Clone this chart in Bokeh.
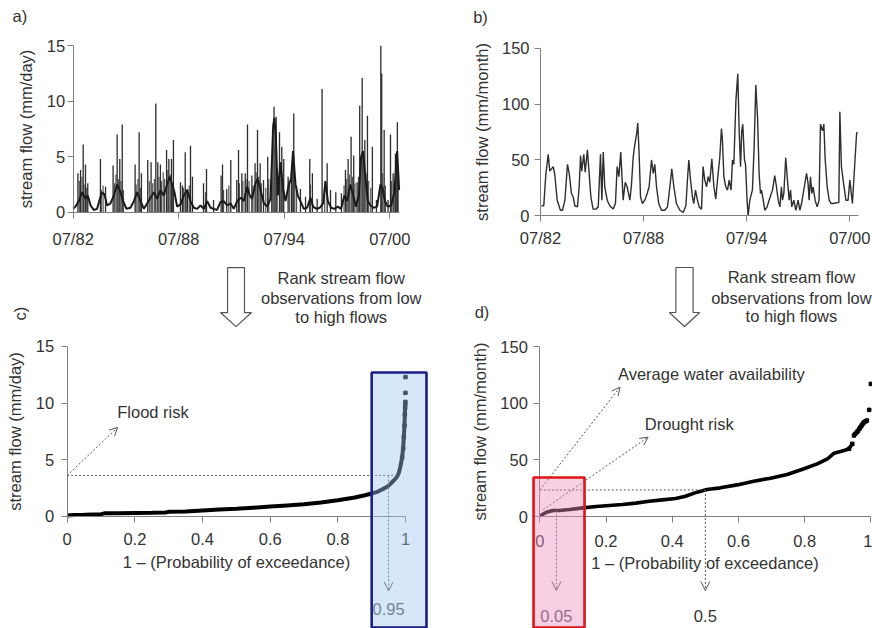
import numpy as np
from bokeh.plotting import figure
from bokeh.layouts import column, row
from bokeh.models import Range1d, FixedTicker, BoxAnnotation, Arrow, OpenHead, Label
from bokeh.embed import file_html
from bokeh.resources import INLINE

FONT = "Liberation Sans"
FS = "16.5px"
TXT = "#333333"
AXC = "#808080"
DOT = "#555555"

# ---------------- a) daily stream flow (mm/day) ----------------
# slowly varying part of the daily record (decimal year, mm/day)
a_base_year = [1982.50, 1982.63, 1982.82, 1983.01, 1983.20, 1983.33, 1983.49, 1983.67, 1983.86, 1984.02,
               1984.15, 1984.28, 1984.43, 1984.62, 1984.81, 1985.00, 1985.19, 1985.34, 1985.53, 1985.76,
               1985.95, 1986.14, 1986.33, 1986.52, 1986.71, 1986.90, 1987.09, 1987.27, 1987.46, 1987.65,
               1987.84, 1987.99, 1988.13, 1988.26, 1988.41, 1988.60, 1988.79, 1988.98, 1989.17, 1989.36,
               1989.55, 1989.74, 1989.93, 1990.12, 1990.31, 1990.49, 1990.68, 1990.87, 1991.06, 1991.25,
               1991.44, 1991.63, 1991.82, 1992.01, 1992.20, 1992.39, 1992.54, 1992.67, 1992.86, 1992.99,
               1993.15, 1993.34, 1993.53, 1993.72, 1993.87, 1993.94, 1994.02, 1994.13, 1994.28, 1994.44,
               1994.57, 1994.76, 1994.89, 1995.00, 1995.14, 1995.27, 1995.42, 1995.61, 1995.80, 1995.99,
               1996.14, 1996.33, 1996.52, 1996.71, 1996.84, 1996.98, 1997.16, 1997.35, 1997.54, 1997.73,
               1997.92, 1998.07, 1998.26, 1998.42, 1998.57, 1998.74, 1998.87, 1998.98, 1999.12, 1999.25,
               1999.40, 1999.59, 1999.78, 1999.97, 2000.08, 2000.23, 2000.38, 2000.58, 2000.76, 2000.92,
               2001.03]
a_base_flow = [0.3, 0.5, 1.0, 1.8, 1.2, 1.5, 0.6, 0.2, 0.3, 1.2,
               1.8, 1.6, 0.6, 0.8, 1.5, 2.5, 1.8, 1.0, 0.3, 0.4,
               1.0, 1.8, 1.0, 0.3, 0.8, 1.3, 1.8, 1.2, 2.0, 1.5,
               2.5, 3.2, 2.5, 1.8, 0.5, 0.7, 1.5, 2.0, 1.0, 0.4,
               0.3, 0.6, 0.3, 1.0, 0.4, 0.3, 0.2, 0.9, 1.0, 0.6,
               0.8, 0.3, 1.0, 1.3, 1.0, 2.3, 1.5, 1.2, 2.6, 3.0,
               2.0, 0.8, 0.5, 1.2, 7.8, 8.5, 7.0, 1.5, 4.5, 2.0,
               1.0, 2.5, 3.0, 5.5, 2.5, 1.5, 1.0, 0.3, 0.4, 1.3,
               0.5, 0.3, 0.4, 0.8, 2.8, 1.0, 0.4, 0.3, 0.5, 0.3,
               1.5, 1.0, 2.5, 1.5, 0.5, 1.5, 5.0, 5.5, 3.0, 1.0,
               0.6, 0.4, 0.5, 2.5, 2.2, 1.0, 0.5, 0.6, 1.8, 5.5,
               2.0]
# storm peaks of the daily record
a_peak_year = [1982.77, 1982.92, 1983.07, 1983.20, 1983.33, 1984.05, 1984.34, 1984.77, 1985.00, 1985.15,
               1985.29, 1986.02, 1986.25, 1986.38, 1986.74, 1986.93, 1987.20, 1987.31, 1987.46, 1987.81,
               1987.94, 1988.09, 1988.20, 1988.60, 1988.71, 1988.87, 1989.00, 1989.17, 1989.28, 1989.91,
               1990.08, 1990.48, 1990.91, 1990.99, 1991.23, 1991.46, 1991.80, 1991.90, 1992.09, 1992.28,
               1992.41, 1992.66, 1992.84, 1992.98, 1993.13, 1993.32, 1993.56, 1993.79, 1993.92, 1994.04,
               1994.23, 1994.36, 1994.47, 1994.72, 1994.91, 1995.04, 1995.42, 1995.71, 1995.95, 1996.10,
               1996.37, 1996.65, 1996.94, 1997.13, 1997.43, 1997.75, 1997.98, 1998.13, 1998.30, 1998.45,
               1998.64, 1998.79, 1998.93, 1999.08, 1999.23, 1999.51, 1999.74, 1999.99, 2000.04, 2000.18,
               2000.40, 2000.54, 2000.69, 2000.82, 2000.93]
a_peak_flow = [3.5, 3.8, 6.1, 4.3, 2.6, 4.8, 2.3, 4.2, 7.0, 4.8,
               7.9, 4.3, 7.2, 3.5, 4.7, 4.5, 9.8, 4.5, 4.3, 5.6,
               4.8, 4.8, 6.5, 2.7, 2.4, 5.4, 2.1, 6.0, 3.2, 2.6,
               3.9, 1.1, 3.3, 4.3, 2.1, 4.7, 2.9, 5.6, 3.5, 3.5,
               7.9, 3.3, 4.4, 7.4, 4.4, 2.9, 5.0, 3.2, 9.5, 8.6,
               7.2, 5.9, 4.8, 3.2, 3.6, 8.9, 2.1, 1.4, 4.8, 3.5,
               1.2, 11.1, 4.4, 2.0, 1.8, 1.7, 3.8, 4.8, 6.8, 5.1,
               2.7, 9.6, 12.1, 6.5, 8.7, 5.9, 1.1, 15.0, 12.5, 7.4,
               1.1, 7.0, 3.5, 5.3, 8.1]
# smaller events filling the wet seasons
a_event_year = [1982.85, 1983.00, 1983.12, 1983.27, 1984.10, 1984.20, 1984.85, 1984.93, 1985.07, 1985.22,
                1985.36, 1986.08, 1986.18, 1986.32, 1986.83, 1987.02, 1987.12, 1987.38, 1987.52, 1987.62,
                1987.70, 1987.88, 1988.02, 1988.15, 1988.78, 1988.93, 1989.10, 1990.02, 1991.05, 1991.35,
                1991.95, 1992.15, 1992.33, 1992.50, 1992.72, 1992.90, 1993.05, 1993.20, 1993.45, 1993.62,
                1993.85, 1993.98, 1994.10, 1994.30, 1994.42, 1994.80, 1994.97, 1995.10, 1995.20, 1995.99,
                1996.80, 1997.90, 1998.05, 1998.20, 1998.38, 1998.52, 1998.72, 1998.86, 1999.00, 1999.15,
                1999.30, 1999.42, 2000.10, 2000.25, 2000.60, 2000.75, 2000.88, 2000.98]
a_event_flow = [2.8, 3.2, 2.5, 2.2, 2.0, 2.4, 2.6, 3.4, 3.0, 2.8,
                2.0, 2.5, 3.0, 2.2, 2.8, 2.6, 3.0, 3.2, 2.8, 3.6,
                3.0, 3.8, 3.4, 2.6, 2.2, 2.0, 2.4, 1.8, 2.0, 2.4,
                2.6, 2.8, 3.0, 2.8, 2.4, 3.6, 3.2, 2.6, 2.2, 3.0,
                6.5, 6.0, 4.0, 4.5, 3.0, 2.8, 4.5, 3.0, 2.4, 2.5,
                2.6, 2.4, 3.0, 3.4, 3.2, 2.6, 3.2, 4.5, 5.0, 3.5,
                2.8, 2.2, 3.5, 2.4, 2.8, 2.6, 4.0, 3.0]

# ---------------- b) monthly stream flow (mm/month) ----------------
b_year = [1982.56, 1982.69, 1982.81, 1982.95, 1983.04, 1983.24, 1983.33, 1983.47, 1983.66, 1983.78,
          1983.92, 1984.07, 1984.17, 1984.30, 1984.40, 1984.50, 1984.65, 1984.75, 1984.83, 1984.90,
          1985.02, 1985.10, 1985.23, 1985.33, 1985.43, 1985.56, 1985.72, 1985.86, 1985.99, 1986.07,
          1986.15, 1986.24, 1986.38, 1986.53, 1986.73, 1986.86, 1986.96, 1987.06, 1987.17, 1987.31,
          1987.43, 1987.54, 1987.70, 1987.79, 1987.89, 1987.99, 1988.09, 1988.16, 1988.24, 1988.32,
          1988.43, 1988.57, 1988.71, 1988.82, 1988.96, 1989.06, 1989.15, 1989.25, 1989.38, 1989.54,
          1989.73, 1989.89, 1990.03, 1990.14, 1990.26, 1990.41, 1990.61, 1990.80, 1990.96, 1991.05,
          1991.13, 1991.23, 1991.34, 1991.42, 1991.52, 1991.62, 1991.73, 1991.87, 1991.96, 1992.06,
          1992.16, 1992.26, 1992.35, 1992.47, 1992.59, 1992.70, 1992.80, 1992.93, 1993.03, 1993.09,
          1993.17, 1993.28, 1993.38, 1993.48, 1993.59, 1993.67, 1993.75, 1993.87, 1993.98, 1994.06,
          1994.14, 1994.21, 1994.27, 1994.37, 1994.43, 1994.52, 1994.58, 1994.68, 1994.83, 1994.93,
          1995.03, 1995.13, 1995.22, 1995.30, 1995.36, 1995.46, 1995.55, 1995.69, 1995.80, 1996.00,
          1996.13, 1996.23, 1996.33, 1996.43, 1996.52, 1996.58, 1996.66, 1996.77, 1996.87, 1996.97,
          1997.05, 1997.12, 1997.24, 1997.36, 1997.49, 1997.59, 1997.69, 1997.98, 1998.07, 1998.13,
          1998.21, 1998.29, 1998.36, 1998.48, 1998.60, 1998.71, 1998.79, 1998.91, 1998.99, 1999.06,
          1999.18, 1999.30, 1999.41, 1999.53, 1999.86, 1999.92, 2000.01, 2000.11, 2000.27, 2000.40,
          2000.50, 2000.65, 2000.89, 2000.92]
b_flow = [9, 9, 37, 55, 40, 44, 37, 14, 5, 5,
          14, 46, 38, 20, 17, 9, 8, 26, 54, 40,
          55, 39, 59, 38, 17, 6, 6, 8, 55, 14,
          57, 26, 14, 9, 6, 11, 44, 35, 57, 14,
          30, 26, 14, 27, 52, 64, 73, 83, 55, 17,
          11, 14, 20, 26, 50, 38, 46, 26, 11, 5,
          5, 8, 26, 42, 26, 11, 5, 3, 9, 32,
          50, 32, 17, 11, 23, 15, 8, 6, 44, 32,
          26, 35, 30, 51, 26, 15, 32, 52, 78, 67,
          35, 26, 23, 32, 23, 50, 46, 103, 127, 76,
          44, 76, 82, 50, 46, 14, 0, 14, 23, 61,
          117, 88, 38, 20, 23, 14, 5, 8, 14, 23,
          36, 26, 14, 8, 26, 14, 20, 52, 32, 14,
          23, 8, 14, 5, 14, 5, 11, 38, 29, 14,
          35, 20, 26, 14, 8, 14, 82, 76, 82, 52,
          26, 14, 11, 11, 12, 93, 44, 32, 14, 14,
          32, 11, 73, 75]

# ---------------- c) ranked daily flows ----------------
c_prob = [0.0, 0.02, 0.05, 0.10, 0.11, 0.15, 0.20, 0.25, 0.29, 0.30, 0.35, 0.40, 0.45, 0.50,
          0.55, 0.60, 0.65, 0.70, 0.75, 0.80, 0.85, 0.88, 0.90, 0.92, 0.94, 0.95, 0.96,
          0.97, 0.975, 0.98, 0.985, 0.99, 0.993, 0.995, 0.997, 0.998, 0.999,
          0.9994, 0.9996, 0.9998, 1.0]
c_flow = [0.05, 0.10, 0.12, 0.18, 0.25, 0.26, 0.28, 0.30, 0.33, 0.38, 0.42, 0.50, 0.58, 0.65,
          0.75, 0.85, 0.95, 1.05, 1.20, 1.40, 1.65, 1.85, 2.00, 2.20, 2.50, 2.70, 3.00,
          3.30, 3.50, 3.80, 4.40, 5.20, 6.00, 7.00, 8.00, 9.00, 9.60,
          9.9, 10.1, 10.9, 12.3]

# ---------------- d) ranked monthly flows ----------------
d_prob = [0.0, 0.02, 0.04, 0.06, 0.09, 0.13, 0.17, 0.21, 0.25, 0.29, 0.33, 0.37, 0.41, 0.44,
          0.475, 0.505, 0.545, 0.596, 0.646, 0.697, 0.747, 0.798, 0.838, 0.869, 0.889, 0.919,
          0.934, 0.944, 0.949, 0.953, 0.958, 0.961, 0.965, 0.968, 0.972, 0.976, 0.980, 0.984,
          0.988, 0.995, 1.0]
d_flow = [0.5, 3.8, 5.3, 5.3, 6.2, 7.6, 8.8, 9.7, 10.6, 11.8, 13.5, 14.7, 15.9, 17.9,
          21.5, 23.8, 25.3, 27.9, 31.2, 33.8, 37.1, 42.1, 46.5, 50.9, 55.9, 58.2,
          59.7, 64.1, 71.5, 73.0, 74.4, 75.5, 77.3, 78.5, 80.3, 82.0, 83.2, 84.0,
          84.7, 94.1, 117.0]

date_ticks = [1982.5, 1988.5, 1994.5, 2000.5]
date_labels = ["07/82", "07/88", "07/94", "07/00"]
prob_ticks = [0, 0.2, 0.4, 0.6, 0.8, 1]
prob_labels = ["0", "0.2", "0.4", "0.6", "0.8", "1"]

FLOOD_LEVEL = 3.6        # mm/day
FLOOD_PROB = 0.95
DROUGHT_PROB = 0.05
MEDIAN_PROB = 0.5


def make_fig(w, h, xr, yr):
    p = figure(width=w, height=h, x_range=Range1d(*xr), y_range=Range1d(*yr),
               output_backend="svg", toolbar_location=None, min_border=0)
    p.outline_line_color = None
    p.grid.visible = False
    p.background_fill_color = "white"
    p.border_fill_color = "white"
    return p


def style_axes(p, x_at, y_at, xb, yb, xticks, xlabels, yticks, ylabel, xlabel=None,
               ytick_standoff=3, ylabel_standoff=8, xtick_standoff=10):
    xa, ya = p.xaxis[0], p.yaxis[0]
    xa.fixed_location = x_at
    ya.fixed_location = y_at
    xa.bounds = xb
    ya.bounds = yb
    xa.ticker = FixedTicker(ticks=xticks)
    xa.major_label_overrides = {t: l for t, l in zip(xticks, xlabels)}
    ya.ticker = FixedTicker(ticks=yticks)
    for ax in (xa, ya):
        ax.axis_line_color = AXC
        ax.major_tick_line_color = AXC
        ax.minor_tick_line_color = None
        ax.major_tick_in = 0
        ax.major_tick_out = 6
        ax.major_label_text_font = FONT
        ax.major_label_text_font_size = FS
        ax.major_label_text_color = TXT
        ax.axis_label_text_font = FONT
        ax.axis_label_text_font_size = FS
        ax.axis_label_text_font_style = "normal"
        ax.axis_label_text_color = TXT
    ya.major_label_standoff = ytick_standoff
    xa.major_label_standoff = xtick_standoff
    ya.axis_label = ylabel
    ya.axis_label_standoff = ylabel_standoff
    if xlabel:
        xa.axis_label = xlabel
        xa.axis_label_standoff = 4


def add_text(p, x, y, txt, color=TXT, align="left", angle=0.0):
    p.add_layout(Label(x=x, y=y, text=txt, text_font=FONT, text_font_size=FS,
                       text_color=color, text_align=align, text_baseline="middle",
                       angle=angle))


def dotted_arrow(p, x0, y0, x1, y1, size=8):
    p.add_layout(Arrow(x_start=x0, y_start=y0, x_end=x1, y_end=y1,
                       line_color=DOT, line_width=1, line_dash="2 2",
                       end=OpenHead(size=size, line_color=DOT, line_width=1)))


def block_arrow(p, xl, xsl, xc, xsr, xr, ytop, yneck, ytip):
    p.patch([xsl, xsr, xsr, xr, xc, xl, xsl], [ytop, ytop, yneck, yneck, ytip, yneck, yneck],
            fill_color="white", line_color="#555555", line_width=1.2)


def rank_note(p, xc, ys):
    lines = ["Rank stream flow", "observations from low", "to high flows"]
    for y, t in zip(ys, lines):
        add_text(p, xc, y, t, align="center")


def highlight(p, left, right, top, bottom, fill, edge):
    p.add_layout(BoxAnnotation(left=left, right=right, top=top, bottom=bottom,
                               fill_color=fill, fill_alpha=0.42,
                               line_color=edge, line_alpha=1.0, line_width=2.6))


# ---------------- panel a ----------------
pa = make_fig(436, 250, (1978.369, 2003.155), (-3.457, 19.088))
pa.segment(x0=a_event_year, y0=0, x1=a_event_year, y1=a_event_flow, line_color="#555555", line_width=1.2)
pa.segment(x0=a_peak_year, y0=0, x1=a_peak_year, y1=a_peak_flow, line_color="#2c2c2c", line_width=1.3)
pa.line(a_base_year, a_base_flow, line_color="#1a1a1a", line_width=2.0)
style_axes(pa, 0, 1982.5, (1982.5, 2001.05), (0, 15), date_ticks, date_labels,
           [0, 5, 10, 15], "stream flow (mm/day)", ytick_standoff=2, ylabel_standoff=9,
           xtick_standoff=12)
add_text(pa, 1979.05, 17.65, "a)")

# ---------------- panel b ----------------
pb = make_fig(436, 250, (1976.448, 2001.819), (-31.02, 192.64))
pb.line(b_year, b_flow, line_color="#2e2e2e", line_width=1.4)
style_axes(pb, 0, 1982.5, (1982.5, 2000.99), (0, 150), date_ticks, date_labels,
           [0, 50, 100, 150], "stream flow (mm/month)", ytick_standoff=5, ylabel_standoff=8,
           xtick_standoff=7)
add_text(pb, 1978.58, 177.7, "b)")

# ---------------- panel c ----------------
pc = make_fig(436, 378, (-0.1971, 1.0916), (-9.931, 23.487))
c_prob_a = np.array(c_prob)
c_flow_a = np.array(c_flow)
body = c_prob_a <= 0.999
pc.line(c_prob_a[body], c_flow_a[body], line_color="black", line_width=4)
tail = c_prob_a >= 0.99
pc.scatter(c_prob_a[tail], c_flow_a[tail], marker="square", size=3.5, color="black")
style_axes(pc, 0, 0, (0, 1), (0, 15), prob_ticks, prob_labels, [0, 5, 10, 15],
           "stream flow (mm/day)", xlabel="1 \u2013 (Probability of exceedance)",
           ytick_standoff=7, ylabel_standoff=9, xtick_standoff=11)
flood_end = float(np.interp(FLOOD_LEVEL, c_flow_a, c_prob_a))
pc.line([0, flood_end], [FLOOD_LEVEL, FLOOD_LEVEL], line_color=DOT, line_width=1, line_dash="2 2")
dotted_arrow(pc, FLOOD_PROB, FLOOD_LEVEL, FLOOD_PROB, -6.6, size=9)
dotted_arrow(pc, 0, FLOOD_LEVEL, 0.149, 7.84, size=8)
add_text(pc, 0.148, 9.17, "Flood risk")
add_text(pc, FLOOD_PROB, -8.2, f"{FLOOD_PROB:g}", color="#555555", align="center")
add_text(pc, -0.138, 17.9, "c)", align="center", angle=np.pi / 2)
block_arrow(pc, 0.453, 0.474, 0.499, 0.524, 0.545, 21.98, 18.0, 16.76)
rank_note(pc, 0.81, [21.1, 19.33, 17.65])
highlight(pc, 0.90, 1.062, 12.70, -9.84, "#9cc6ee", "#1c1f8a")

# ---------------- panel d ----------------
pd_ = make_fig(436, 378, (-0.3122, 1.005), (-98.8, 234.7))
d_prob_a = np.array(d_prob)
d_flow_a = np.array(d_flow)
body = d_prob_a <= 0.944
pd_.line(d_prob_a[body], d_flow_a[body], line_color="black", line_width=3.6)
tail = d_prob_a >= 0.934
pd_.scatter(d_prob_a[tail], d_flow_a[tail], marker="square", size=3.5, color="black")
style_axes(pd_, 0, 0, (0, 1), (0, 150), prob_ticks, prob_labels, [0, 50, 100, 150],
           "stream flow (mm/month)", xlabel="1 \u2013 (Probability of exceedance)",
           ytick_standoff=6, ylabel_standoff=8, xtick_standoff=12)
median_flow = float(np.interp(MEDIAN_PROB, d_prob_a, d_flow_a))
drought_flow = float(np.interp(DROUGHT_PROB, d_prob_a, d_flow_a))
pd_.line([0, MEDIAN_PROB], [median_flow, median_flow], line_color=DOT, line_width=1, line_dash="2 2")
dotted_arrow(pd_, MEDIAN_PROB, median_flow, MEDIAN_PROB, -65.3, size=9)
dotted_arrow(pd_, DROUGHT_PROB, drought_flow, DROUGHT_PROB, -65.3, size=9)
dotted_arrow(pd_, 0, median_flow, 0.242, 114.1, size=8)
dotted_arrow(pd_, 0.01, 6.0, 0.327, 70.0, size=8)
add_text(pd_, 0.236, 125.9, "Average water availability")
add_text(pd_, 0.317, 81.2, "Drought risk")
add_text(pd_, MEDIAN_PROB, -87.4, f"{MEDIAN_PROB:g}", align="center")
add_text(pd_, DROUGHT_PROB, -87.4, f"{DROUGHT_PROB:g}", color="#555555", align="center")
add_text(pd_, -0.197, 180.3, "d)")
block_arrow(pd_, 0.391, 0.411, 0.437, 0.463, 0.483, 219.7, 180.0, 167.6)
rank_note(pd_, 0.760, [210.9, 193.2, 176.5])
highlight(pd_, -0.019, 0.135, 34.4, -97.9, "#ec8fbe", "#e01515")

layout = column(row(pa, pb, spacing=0), row(pc, pd_, spacing=0), spacing=0)
open("out.html", "w").write(file_html(layout, INLINE))
